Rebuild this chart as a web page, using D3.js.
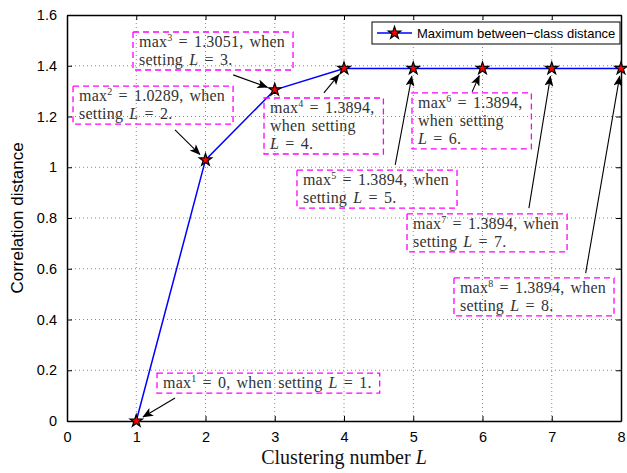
<!DOCTYPE html>
<html>
<head>
<meta charset="utf-8">
<script src="https://cdn.jsdelivr.net/npm/d3@7"></script>
<style>
  body { margin: 0; background: #fff; }
</style>
</head>
<body>
<div id="container"></div>
<script>
/* DATA */
const clusters = [1, 2, 3, 4, 5, 6, 7, 8];
const maxDistance = [0, 1.0289, 1.3051, 1.3894, 1.3894, 1.3894, 1.3894, 1.3894];
const xTicks = [0, 1, 2, 3, 4, 5, 6, 7, 8];
const yTicks = [0, 0.2, 0.4, 0.6, 0.8, 1, 1.2, 1.4, 1.6];
const yTickLabels = ["0", "0.2", "0.4", "0.6", "0.8", "1", "1.2", "1.4", "1.6"];
const legendLabel = "Maximum between\u2212class distance";

/* ANNOTATIONS: line layout, box corner and arrow tail (in data units) */
const noteLines = [1, 2, 2, 3, 2, 3, 2, 2];
const noteBoxX = [1.30, 0.087, 0.953, 2.845, 3.321, 4.982, 4.910, 5.588];
const noteBoxY = [0.189, 1.320, 1.533, 1.273, 0.989, 1.293, 0.816, 0.564];
const noteTailX = [1.56, 1.56, 2.40, 3.71, 4.74, 5.85, 6.67, 7.49];
const noteTailY = [0.091, 1.147, 1.364, 1.293, 1.009, 1.297, 0.839, 0.583];

/* LAYOUT */
const W = 627, H = 473;
const margin = {top: 15, right: 6, bottom: 52, left: 67};
const width = W - margin.left - margin.right,
      height = H - margin.top - margin.bottom;

const x = d3.scaleLinear().domain([0, 8]).range([0, width]);
const y = d3.scaleLinear().domain([0, 1.6]).range([height, 0]);

const svg = d3.select("#container").append("svg")
    .attr("width", W)
    .attr("height", H);

svg.append("defs").append("marker")
    .attr("id", "head")
    .attr("viewBox", "0 0 12 10")
    .attr("refX", 11).attr("refY", 5)
    .attr("markerWidth", 11).attr("markerHeight", 9)
    .attr("markerUnits", "userSpaceOnUse")
    .attr("orient", "auto")
  .append("path")
    .attr("d", "M0,0 L12,5 L0,10 L3,5 Z")
    .attr("fill", "#000");

const g = svg.append("g")
    .attr("transform", "translate(" + margin.left + "," + margin.top + ")");

/* GRID */
g.append("g").selectAll("line")
  .data(xTicks.slice(1, -1)).join("line")
    .attr("x1", d => x(d)).attr("x2", d => x(d))
    .attr("y1", 0).attr("y2", height)
    .attr("stroke", "#888").attr("stroke-dasharray", "1,3");
g.append("g").selectAll("line")
  .data(yTicks.slice(1, -1)).join("line")
    .attr("x1", 0).attr("x2", width)
    .attr("y1", d => y(d)).attr("y2", d => y(d))
    .attr("stroke", "#888").attr("stroke-dasharray", "1,3");

/* AXES (ticks inside, box on four sides) */
const axisFont = "'Liberation Sans', Arial, sans-serif";
g.append("g").attr("transform", "translate(0," + height + ")")
    .call(d3.axisBottom(x).tickValues(xTicks).tickSizeInner(-5).tickSizeOuter(0).tickPadding(11).tickFormat(d3.format("d")));
g.append("g")
    .call(d3.axisLeft(y).tickValues(yTicks).tickSizeInner(-5).tickSizeOuter(0).tickPadding(10).tickFormat((d, i) => yTickLabels[i]));
g.append("g")
    .call(d3.axisTop(x).tickValues(xTicks).tickSizeInner(-5).tickSizeOuter(0).tickFormat(""));
g.append("g").attr("transform", "translate(" + width + ",0)")
    .call(d3.axisRight(y).tickValues(yTicks).tickSizeInner(-5).tickSizeOuter(0).tickFormat(""));
g.selectAll(".domain").attr("stroke", "#000").attr("stroke-width", 1.5);
g.selectAll(".tick line").attr("stroke", "#000");
g.selectAll(".tick text")
    .attr("font-family", axisFont).attr("font-size", 14.5).attr("fill", "#000");

/* AXIS LABELS */
svg.append("text")
    .attr("transform", "translate(23," + (margin.top + height / 2) + ") rotate(-90)")
    .attr("text-anchor", "middle")
    .attr("font-family", axisFont).attr("font-size", 17)
    .text("Correlation distance");

const xlab = svg.append("text")
    .attr("x", margin.left + width / 2).attr("y", 464)
    .attr("text-anchor", "middle")
    .attr("font-family", "'Liberation Serif', 'Times New Roman', serif").attr("font-size", 20)
    .attr("fill", "#111");
xlab.append("tspan").text("Clustering number ");
xlab.append("tspan").attr("font-style", "italic").text("L");

/* LINE AND MARKERS */
const line = d3.line()
    .x((d, i) => x(clusters[i]))
    .y(d => y(d));

g.append("path")
    .datum(maxDistance)
    .attr("d", line)
    .attr("fill", "none")
    .attr("stroke", "#0000ff")
    .attr("stroke-width", 1.5);

const star = d3.symbol().type(d3.symbolStar).size(48);
g.append("g").selectAll("path")
  .data(maxDistance).join("path")
    .attr("transform", (d, i) => "translate(" + x(clusters[i]) + "," + y(d) + ")")
    .attr("d", star)
    .attr("fill", "#ff0000")
    .attr("stroke", "#000")
    .attr("stroke-width", 1.2);

/* ANNOTATIONS */
const noteFont = "'Liberation Serif', 'Times New Roman', serif";
function lineSegments(k, n) {
  const L = clusters[k], v = String(maxDistance[k]);
  const head = [["max", "n"], [String(L), "sup"], [" = " + v + ",", "n"]];
  if (n === 1) return [head.concat([[" when setting ", "n"], ["L", "it"], [" = " + L + ".", "n"]])];
  if (n === 2) return [head.concat([[" when", "n"]]), [["setting ", "n"], ["L", "it"], [" = " + L + ".", "n"]]];
  return [head, [["when setting", "n"]], [["L", "it"], [" = " + L + ".", "n"]]];
}

maxDistance.forEach((d, k) => {
  const bx = x(noteBoxX[k]), by = y(noteBoxY[k]);
  const ng = g.append("g");
  const txt = ng.append("text")
      .attr("font-family", noteFont).attr("font-size", 16)
      .attr("word-spacing", 2).attr("letter-spacing", 0.2)
      .attr("fill", "#333");
  lineSegments(k, noteLines[k]).forEach((segs, li) => {
    segs.forEach((s, si) => {
      const t = txt.append("tspan").text(s[0]);
      if (si === 0) t.attr("x", bx + 6).attr("y", by + 15 + li * 18);
      if (s[1] === "sup") t.attr("font-size", 10).attr("dy", -6);
      if (s[1] === "it") t.attr("font-style", "italic");
      if (si > 0 && segs[si - 1][1] === "sup") t.attr("dy", 6);
    });
  });
  const bb = txt.node().getBBox();
  ng.insert("rect", "text")
      .attr("x", bx).attr("y", by)
      .attr("width", bb.width + 14)
      .attr("height", noteLines[k] * 18 + 2)
      .attr("fill", "none")
      .attr("stroke", "#ff00ff")
      .attr("stroke-width", 1.3)
      .attr("stroke-dasharray", "6,4");

  // arrow toward the data point, stopping short of the marker
  const tx = x(noteTailX[k]), ty = y(noteTailY[k]);
  const px = x(clusters[k]), py = y(d);
  const len = Math.hypot(px - tx, py - ty), gap = 8;
  g.append("line")
      .attr("x1", tx).attr("y1", ty)
      .attr("x2", px - (px - tx) * gap / len)
      .attr("y2", py - (py - ty) * gap / len)
      .attr("stroke", "#000").attr("stroke-width", 1.1)
      .attr("marker-end", "url(#head)");
});

/* LEGEND */
const lg = g.append("g").attr("transform", "translate(" + (width - 249) + ",7)");
lg.append("rect")
    .attr("width", 248).attr("height", 22)
    .attr("fill", "#fff").attr("stroke", "#000").attr("stroke-width", 1);
lg.append("line")
    .attr("x1", 5).attr("x2", 40).attr("y1", 11).attr("y2", 11)
    .attr("stroke", "#0000ff").attr("stroke-width", 1.5);
lg.append("path")
    .attr("transform", "translate(22.5,11)")
    .attr("d", star)
    .attr("fill", "#ff0000").attr("stroke", "#000").attr("stroke-width", 1.2);
lg.append("text")
    .attr("x", 45).attr("y", 15.5)
    .attr("font-family", axisFont).attr("font-size", 13)
    .text(legendLabel);
</script>
</body>
</html>
